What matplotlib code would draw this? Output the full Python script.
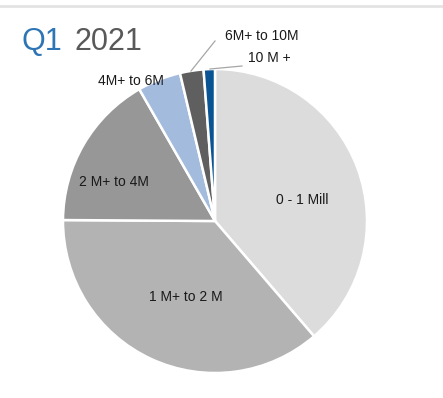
import matplotlib
matplotlib.use("Agg")
import matplotlib.pyplot as plt

categories = ["0 - 1 Mill", "1 M+ to 2 M", "2 M+ to 4M", "4M+ to 6M", "6M+ to 10M", "10 M +"]
shares = [38.7, 36.4, 16.6, 4.6, 2.5, 1.2]
colors = ["#dcdcdc", "#b3b3b3", "#979797", "#a3bbdd", "#5f5f5f", "#0b5494"]

plt.rcParams['font.family'] = ['Liberation Sans', 'DejaVu Sans']

W, H = 443, 398
fig = plt.figure(figsize=(W / 100, H / 100), dpi=100)
ax = fig.add_axes([0, 0, 1, 1])
ax.set_xlim(0, W)
ax.set_ylim(0, H)
ax.axis('off')

cx, cy, r = 215, H - 221, 152
ax.pie(shares, colors=colors, startangle=90, counterclock=False,
       center=(cx, cy), radius=r, frame=True,
       wedgeprops=dict(edgecolor='white', linewidth=1.8))
ax.set_xlim(0, W)
ax.set_ylim(0, H)
ax.set_aspect('auto')
ax.axis('off')

# inner labels
label_pos = {
    "0 - 1 Mill": (302, 200),
    "1 M+ to 2 M": (186, 297),
    "2 M+ to 4M": (114, 182),
    "4M+ to 6M": (131, 81),
    "6M+ to 10M": (262, 36),
    "10 M +": (269, 58),
}
for c in categories:
    x, y = label_pos[c]
    ax.text(x, H - y, c, ha='center', va='center', fontsize=10, color='#1a1a1a')

# leader lines
ax.plot([215, 191], [H - 41, H - 71], color='#a6a6a6', lw=0.9)
ax.plot([242, 210], [H - 66, H - 69], color='#a6a6a6', lw=0.9)

# top border
ax.plot([0, W], [H - 5.5, H - 5.5], color='#e3e3e3', lw=2)

# title
ax.text(22, H - 50, "Q1", fontsize=22, color='#2e75b6', va='baseline', ha='left')
ax.text(75, H - 50, "2021", fontsize=22, color='#595959', va='baseline', ha='left')

fig.savefig("out.png", dpi=100)
